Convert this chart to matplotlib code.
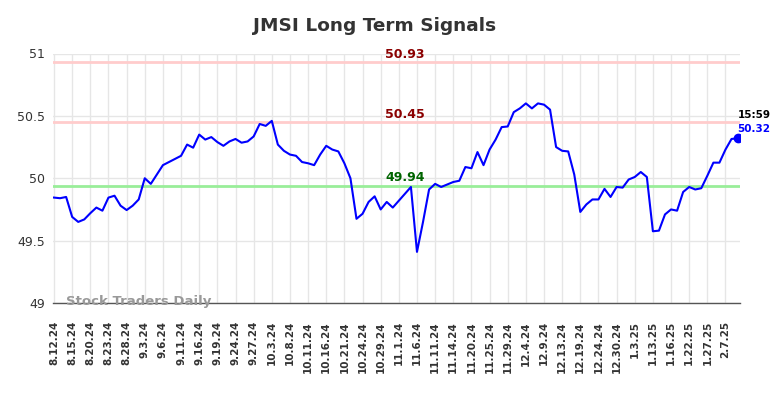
import matplotlib
matplotlib.use("Agg")
import matplotlib.pyplot as plt

title = "JMSI Long Term Signals"
tick_labels = ["8.12.24", "8.15.24", "8.20.24", "8.23.24", "8.28.24", "9.3.24", "9.6.24",
               "9.11.24", "9.16.24", "9.19.24", "9.24.24", "9.27.24", "10.3.24", "10.8.24",
               "10.11.24", "10.16.24", "10.21.24", "10.24.24", "10.29.24", "11.1.24",
               "11.6.24", "11.11.24", "11.14.24", "11.20.24", "11.25.24", "11.29.24",
               "12.4.24", "12.9.24", "12.13.24", "12.19.24", "12.24.24", "12.30.24",
               "1.3.25", "1.13.25", "1.16.25", "1.22.25", "1.27.25", "2.7.25"]

prices = [49.845, 49.84, 49.85, 49.69, 49.65, 49.67, 49.72, 49.765, 49.74, 49.845,
          49.86, 49.78, 49.745, 49.78, 49.83, 50.00, 49.955, 50.03, 50.105, 50.13,
          50.155, 50.18, 50.27, 50.245, 50.35, 50.31, 50.33, 50.29, 50.26, 50.295,
          50.315, 50.285, 50.295, 50.335, 50.435, 50.42, 50.46, 50.27, 50.22, 50.19,
          50.18, 50.13, 50.12, 50.105, 50.19, 50.26, 50.23, 50.215, 50.12, 50.00,
          49.675, 49.715, 49.81, 49.855, 49.75, 49.81, 49.765, 49.82, 49.875, 49.93,
          49.41, 49.65, 49.91, 49.955, 49.93, 49.95, 49.97, 49.98, 50.09, 50.08,
          50.21, 50.105, 50.23, 50.31, 50.41, 50.415, 50.53, 50.56, 50.60, 50.56,
          50.60, 50.59, 50.55, 50.25, 50.22, 50.215, 50.03, 49.73, 49.79, 49.83,
          49.83, 49.915, 49.85, 49.93, 49.925, 49.99, 50.01, 50.05, 50.01, 49.575,
          49.58, 49.71, 49.75, 49.74, 49.89, 49.93, 49.91, 49.92, 50.02, 50.125,
          50.125, 50.23, 50.315, 50.32]

resistance_levels = [50.93, 50.45]
support_levels = [49.94]
last_time = "15:59"
watermark = "Stock Traders Daily"
y_ticks = [49, 49.5, 50, 50.5, 51]
y_tick_labels = ["49", "49.5", "50", "50.5", "51"]

fig = plt.figure(figsize=(7.84, 3.98), dpi=100)
ax = fig.add_axes([53 / 784, 1 - 303 / 398, (740 - 53) / 784, (303 - 53.5) / 398])

n = len(prices)
x = list(range(n))
tick_pos = list(range(0, 3 * len(tick_labels), 3))

ax.set_xlim(-0.17, n - 1 + 0.4)
ax.set_ylim(49, 51)

ax.set_xticks(tick_pos)
ax.set_xticklabels(tick_labels, rotation=90, fontsize=7.5, fontweight="bold", color="#333333")
ax.set_yticks(y_ticks)
ax.set_yticklabels(y_tick_labels, fontsize=9, color="#333333")
ax.tick_params(axis="both", length=0, pad=6)
ax.tick_params(axis="x", pad=13)

ax.grid(True, color="#e6e6e6", linewidth=1)
ax.set_axisbelow(True)
for s in ["top", "right", "left"]:
    ax.spines[s].set_visible(False)
ax.spines["bottom"].set_color("#555555")
ax.spines["bottom"].set_linewidth(1)

for lv in resistance_levels:
    ax.axhline(lv, color="#ffcccc", linewidth=2, zorder=2)
    ax.text(58, lv + 0.01, f"{lv:.2f}", color="#8b0000", fontsize=9, fontweight="bold",
            ha="center", va="bottom", clip_on=False, zorder=5)
for lv in support_levels:
    ax.axhline(lv, color="#99ee99", linewidth=2, zorder=2)
    ax.text(58, lv + 0.01, f"{lv:.2f}", color="#006400", fontsize=9, fontweight="bold",
            ha="center", va="bottom", clip_on=False, zorder=5)

ax.plot(x, prices, color="#0000ff", linewidth=1.5, zorder=4)
ax.plot([x[-1]], [prices[-1]], "o", color="#0000ff", markersize=6, zorder=5)

ax.text(x[-1], prices[-1] + 0.145, last_time, color="#000000", fontsize=7.5,
        fontweight="bold", ha="left", va="bottom", clip_on=False)
ax.text(x[-1], prices[-1] + 0.035, f"{prices[-1]:.2f}", color="#0000ff", fontsize=7.5,
        fontweight="bold", ha="left", va="bottom", clip_on=False)

ax.text(2, 49.0 + 0.01, watermark, color="#999999", fontsize=9.5, fontweight="bold",
        ha="left", va="center", zorder=6)

fig.text(375 / 784, 1 - 26 / 398, title, fontsize=13.3, fontweight="bold", color="#333333",
         ha="center", va="center")

fig.savefig("out.png", dpi=100)
